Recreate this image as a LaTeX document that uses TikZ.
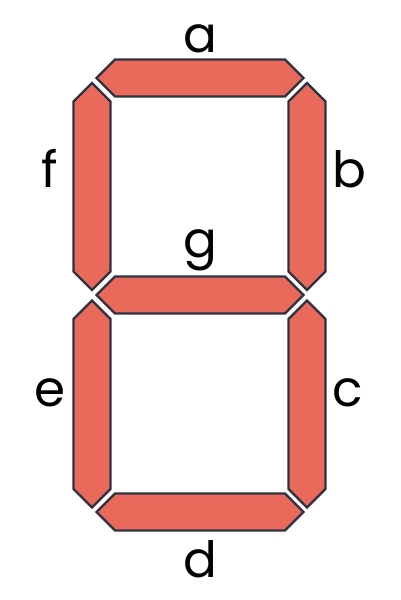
\documentclass[tikz,border=0pt]{standalone}
\usepackage{fontspec}
\setmainfont{Poppins}
\definecolor{segfill}{HTML}{E96A5A}
\definecolor{segline}{HTML}{2E3142}
\tikzset{
	segment/.style={draw=segline, fill=segfill, line width=2.4pt},
	label/.style={anchor=base, inner sep=0pt, font=\fontsize{50}{50}\selectfont}
}
\newcommand{\hseg}[2]{\draw[segment] ({#1-103.5},#2) -- ++(18.5,18.5) -- ++(170,0) -- ++(18.5,-18.5) -- ++(-18.5,-18.5) -- ++(-170,0) -- cycle;}
\newcommand{\vseg}[2]{\draw[segment] (#1,{#2-103.5}) -- ++(18.5,18.5) -- ++(0,170) -- ++(-18.5,18.5) -- ++(-18.5,-18.5) -- ++(0,-170) -- cycle;}
\begin{document}
\begin{tikzpicture}[x=1pt, y=-1pt]
	\useasboundingbox (0,0) rectangle (400,600);
	
	\hseg{200}{78}
	\vseg{307}{186.5}
	\vseg{307}{404}
	\hseg{200}{512}
	\vseg{92}{404}
	\vseg{92}{186.5}
	\hseg{200}{295}
	
	\node[label] (la) at (200,52) {a};
	\node[label] (lb) at (349,187) {b};
	\node[label] (lc) at (348,406) {c};
	\node[label] (ld) at (200,577) {d};
	\node[label] (le) at (50,406) {e};
	\node[label] (lf) at (50,187) {f};
	\node[label] (lg) at (200,257) {g};
\end{tikzpicture}
\end{document}
